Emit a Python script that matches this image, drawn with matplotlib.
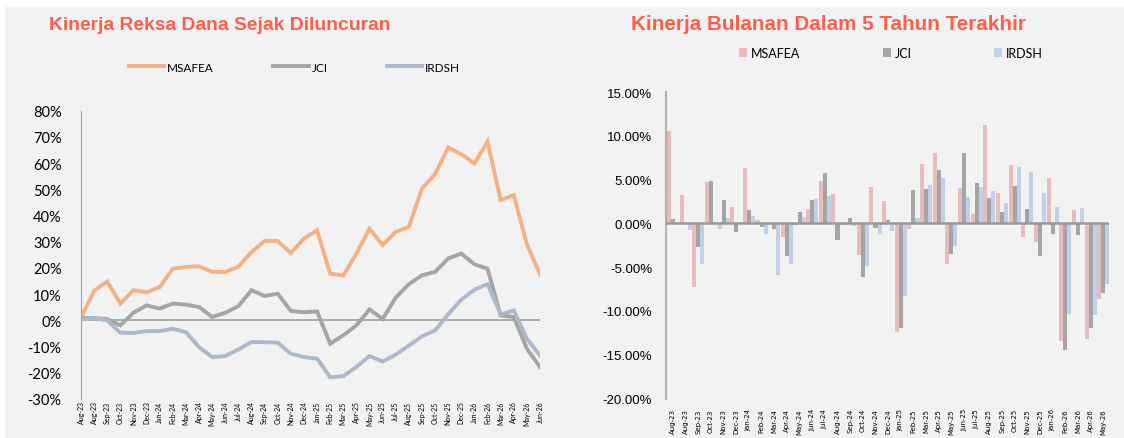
import matplotlib
matplotlib.use("Agg")
import matplotlib.pyplot as plt
from matplotlib.patches import Rectangle
from matplotlib.ticker import FuncFormatter

# --- data -------------------------------------------------------------
line_labels = ["Aug-23", "Aug-23", "Sep-23", "Oct-23", "Nov-23", "Dec-23",
               "Jan-24", "Feb-24", "Mar-24", "Apr-24", "May-24", "Jun-24",
               "Jul-24", "Aug-24", "Sep-24", "Oct-24", "Nov-24", "Dec-24",
               "Jan-25", "Feb-25", "Mar-25", "Apr-25", "May-25", "Jun-25",
               "Jul-25", "Aug-25", "Sep-25", "Oct-25", "Nov-25", "Dec-25",
               "Jan-26", "Feb-26", "Mar-26", "Apr-26", "May-26", "Jun-26"]

msafea_cum = [1.0, 11.3, 14.8, 6.4, 11.5, 10.7, 12.7, 19.7, 20.4, 20.6, 18.5, 18.5,
              20.4, 26.1, 30.3, 30.3, 25.7, 31.2, 34.4, 17.8, 17.1, 25.5, 35.0, 28.7,
              33.8, 35.7, 50.3, 55.8, 66.0, 63.4, 59.9, 68.2, 45.9, 47.8, 29.0, 17.6]
jci_cum = [0.9, 0.9, 0.5, -1.9, 2.9, 5.7, 4.5, 6.4, 6.0, 5.1, 1.3, 2.9,
           5.4, 11.5, 9.3, 10.2, 3.6, 3.1, 3.4, -8.9, -5.7, -1.9, 4.2, 0.5,
           8.7, 13.8, 17.2, 18.5, 23.6, 25.5, 21.4, 19.7, 1.9, 1.3, -10.8, -17.8]
irdsh_cum = [0.6, 0.9, 0.0, -4.7, -4.8, -4.1, -4.1, -3.2, -4.5, -10.2, -14.0, -13.6,
             -11.1, -8.3, -8.3, -8.5, -12.7, -14.0, -14.6, -21.7, -21.3, -17.8, -13.6, -15.7,
             -13.1, -9.6, -6.1, -3.8, 2.3, 7.9, 11.7, 13.8, 2.3, 3.8, -7.0, -13.4]

bar_labels = line_labels[:35]
msafea_m = [10.5, 3.2, -7.3, 4.7, -0.7, 1.9, 6.3, 0.4, 0.15, -1.6, -0.2, 1.6,
            4.8, 3.3, -0.2, -3.6, 4.1, 2.5, -12.4, -0.6, 6.8, 8.0, -4.6, 4.0,
            1.1, 11.2, 3.5, 6.7, -1.6, -2.1, 5.2, -13.4, 1.5, -13.2, -8.6]
jci_m = [0.5, -0.1, -2.7, 4.8, 2.7, -1.0, 1.5, -0.4, -0.7, -3.7, 1.3, 2.7,
         5.7, -1.9, 0.6, -6.1, -0.5, 0.4, -11.9, 3.8, 3.9, 6.1, -3.5, 8.0,
         4.6, 2.9, 1.3, 4.3, 1.6, -3.7, -1.2, -14.5, -1.3, -12.0, -7.9]
irdsh_m = [0.2, -0.8, -4.6, 0.2, 0.6, 0.2, 0.8, -1.2, -5.9, -4.6, 0.7, 2.8,
           3.1, 0.15, -0.3, -4.9, -1.2, -0.9, -8.3, 0.6, 4.4, 5.2, -2.6, 3.0,
           4.1, 3.7, 2.3, 6.4, 5.9, 3.5, 1.9, -10.4, 1.7, -10.5, -6.9]

W, H = 1124, 439
fig = plt.figure(figsize=(W / 100, H / 100), dpi=100)
fig.patches.append(Rectangle((5 / W, 0), 1, 1 - 8 / H, transform=fig.transFigure,
                             color="#f2f2f2", zorder=-10))

title_color = "#ff5e4b"
c_ms, c_jci, c_ir = "#f4b183", "#a5a5a5", "#adb9ca"


def px_axes(x0, y0, x1, y1):
    return fig.add_axes([x0 / W, 1 - y1 / H, (x1 - x0) / W, (y1 - y0) / H])


# --- left chart -------------------------------------------------------
ax1 = px_axes(81, 111.7, 540, 400)
ax1.set_facecolor("none")
x = list(range(len(line_labels)))
ax1.plot(x, msafea_cum, color=c_ms, lw=2.8, label="MSAFEA", solid_joinstyle="miter")
ax1.plot(x, jci_cum, color=c_jci, lw=2.8, label="JCI", solid_joinstyle="miter")
ax1.plot(x, irdsh_cum, color=c_ir, lw=2.8, label="IRDSH", solid_joinstyle="miter")
ax1.axhline(0, color="#a0a0a0", lw=1.2, zorder=0)
ax1.set_xlim(0, 35)
ax1.set_ylim(-30, 80)
ax1.set_yticks(range(-30, 81, 10))
ax1.yaxis.set_major_formatter(FuncFormatter(lambda v, p: f"{int(round(v))}%"))
ax1.set_xticks(x)
ax1.set_xticklabels(line_labels, rotation=90, fontsize=5, family="Lato")
for s in ["top", "right", "bottom"]:
    ax1.spines[s].set_visible(False)
ax1.spines["left"].set_color("#a0a0a0")
ax1.tick_params(axis="y", length=0, pad=14, labelsize=10.5)
ax1.tick_params(axis="x", length=0, pad=1)
for t in ax1.get_yticklabels():
    t.set_family("Lato")
fig.text(49 / W, 1 - 25 / H, "Kinerja Reksa Dana Sejak Diluncuran", color=title_color,
         fontsize=13.9, fontweight="bold", family="Liberation Sans", va="center")
fig.legend(*ax1.get_legend_handles_labels(), loc="center left",
           bbox_to_anchor=(129 / W, 1 - 68 / H), ncol=3, frameon=False,
           prop={"family": "Lato", "size": 8.5}, handlelength=3.0,
           handletextpad=0.25, columnspacing=5.0, borderpad=0, borderaxespad=0)

# --- right chart ------------------------------------------------------
ax2 = px_axes(666, 93, 1109, 399.5)
ax2.set_facecolor("none")
bx = list(range(len(bar_labels)))
bw = 0.32
ax2.bar([i - bw for i in bx], msafea_m, width=bw, color="#e6bcbc", label="MSAFEA")
ax2.bar(bx, jci_m, width=bw, color="#a5a5a5", label="JCI")
ax2.bar([i + bw for i in bx], irdsh_m, width=bw, color="#bfd0e8", label="IRDSH")
ax2.axhline(0, color="#999999", lw=1.8, zorder=3)
ax2.set_xlim(-0.55, 34.45)
ax2.set_ylim(-20, 15)
ax2.set_yticks(range(-20, 16, 5))
ax2.yaxis.set_major_formatter(FuncFormatter(lambda v, p: f"{v:.2f}%"))
ax2.set_xticks(bx)
ax2.set_xticklabels(bar_labels, rotation=90, fontsize=5, family="Liberation Sans Narrow")
for s in ["top", "right", "bottom"]:
    ax2.spines[s].set_visible(False)
ax2.spines["left"].set_color("#b0b0b0")
ax2.spines["left"].set_linewidth(1.5)
ax2.tick_params(axis="y", length=0, pad=10, labelsize=9.5)
ax2.tick_params(axis="x", length=0, pad=7)
for t in ax2.get_yticklabels():
    t.set_family("Liberation Sans")
fig.text(631 / W, 1 - 24 / H, "Kinerja Bulanan Dalam 5 Tahun Terakhir", color=title_color,
         fontsize=14.9, fontweight="bold", family="Liberation Sans", va="center")
fig.legend(*ax2.get_legend_handles_labels(), loc="center left",
           bbox_to_anchor=(739 / W, 1 - 54 / H), ncol=3, frameon=False,
           prop={"family": "Lato", "size": 9}, handlelength=0.65, handleheight=0.65,
           handletextpad=0.3, columnspacing=6.6, borderpad=0, borderaxespad=0)

fig.savefig("out.png", dpi=100)
